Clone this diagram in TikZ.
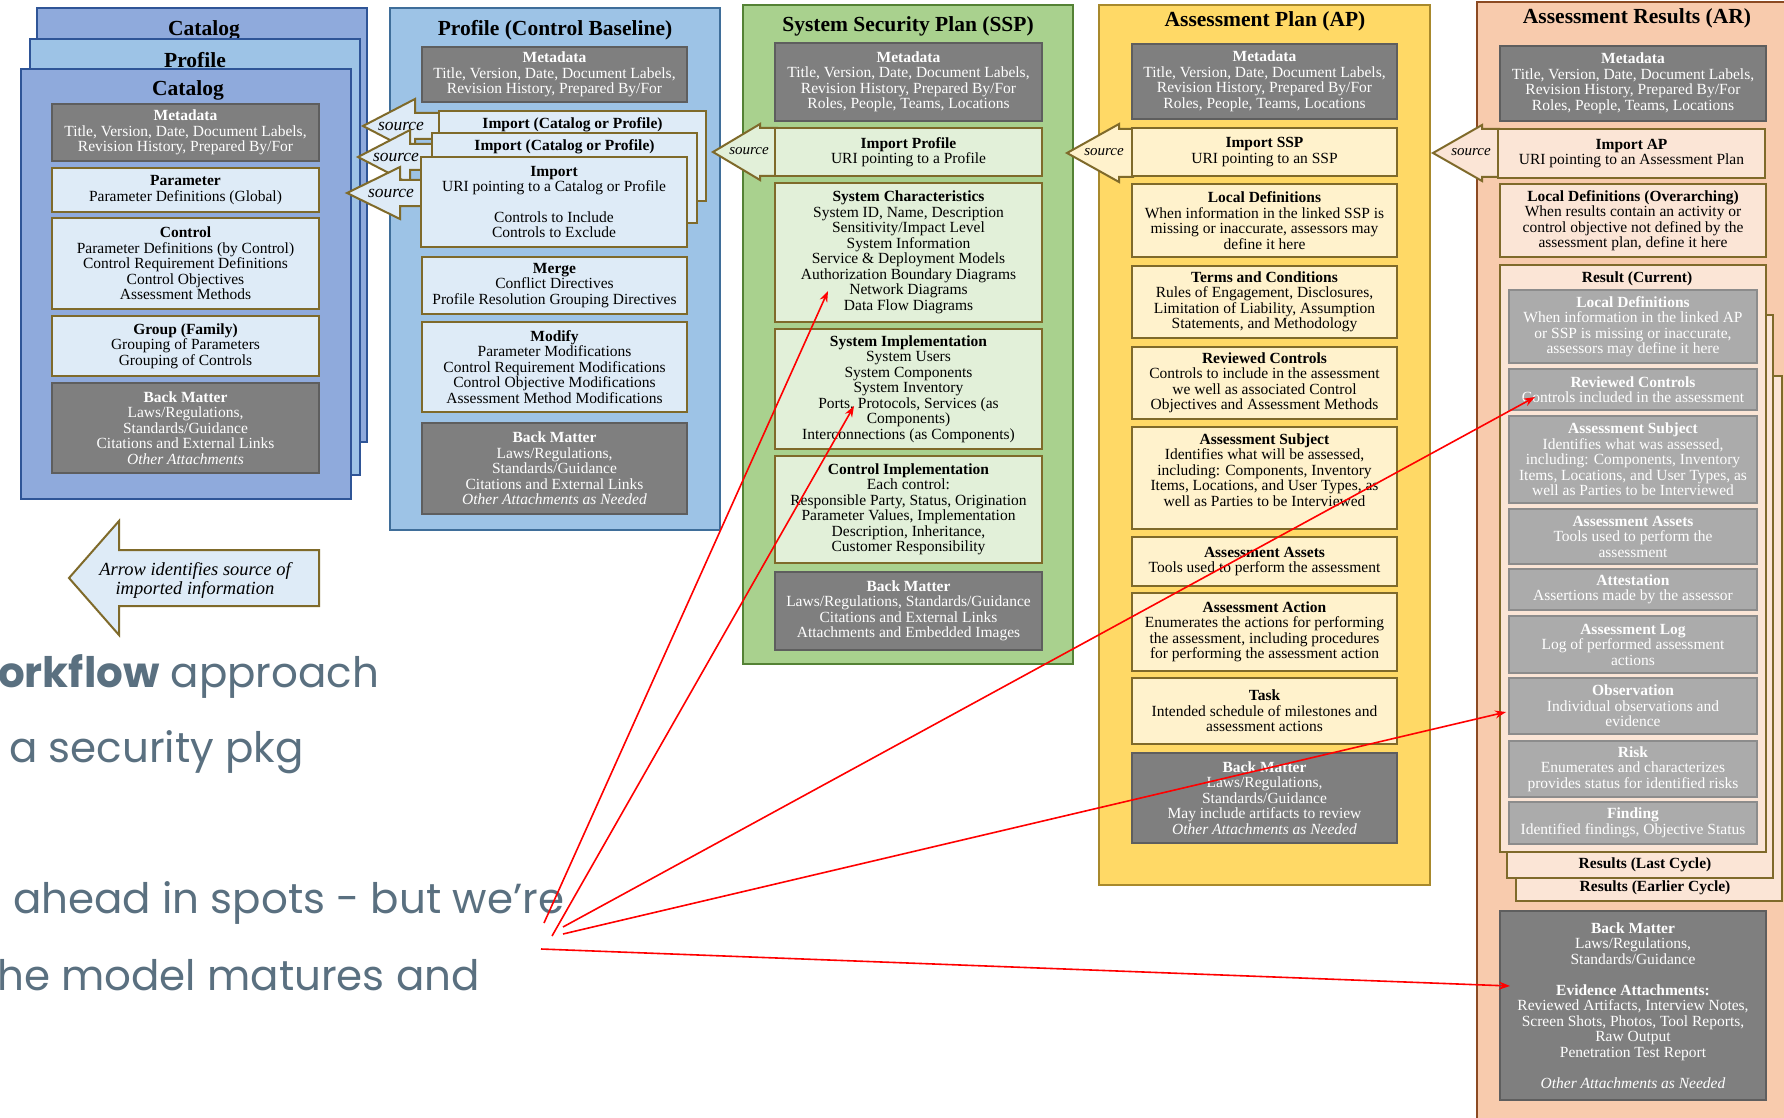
\documentclass[tikz,border=0pt]{standalone}
\usepackage{fontspec}
\setmainfont{Liberation Serif}
\newfontfamily\slidefont{Poppins}
\usetikzlibrary{arrows.meta}

\definecolor{catfill}{HTML}{8FAADC}
\definecolor{catline}{HTML}{2F5597}
\definecolor{proffill}{HTML}{9DC3E6}
\definecolor{profline}{HTML}{3F6E9A}
\definecolor{sspfill}{HTML}{A9D18E}
\definecolor{sspline}{HTML}{548235}
\definecolor{apfill}{HTML}{FFD966}
\definecolor{apline}{HTML}{A8892C}
\definecolor{arfill}{HTML}{F8CBAD}
\definecolor{arline}{HTML}{8C4A22}
\definecolor{paleblue}{HTML}{DEEBF7}
\definecolor{palegreen}{HTML}{E2F0D9}
\definecolor{paleyellow}{HTML}{FFF2CC}
\definecolor{palepeach}{HTML}{FBE5D6}
\definecolor{boxline}{HTML}{7F6A2A}
\definecolor{darkbox}{HTML}{7F7F7F}
\definecolor{darkboxline}{HTML}{5E5E5E}
\definecolor{lightbox}{HTML}{ABABAB}
\definecolor{lightboxline}{HTML}{8C8C8C}
\definecolor{slidetext}{HTML}{5A7080}

\tikzset{
  sz/.style 2 args={minimum width=#1pt, minimum height=#2pt},
  container/.style={draw, line width=2pt, inner sep=0pt},
  coltitle/.style={font=\fontsize{21.5}{23}\selectfont\bfseries},
  part/.style={draw=boxline, line width=2.4pt, inner sep=0pt, align=center,
               font=\fontsize{15.5}{15.5}\selectfont},
  metabox/.style={draw=darkboxline, fill=darkbox, text=white, line width=1.4pt,
                  inner sep=0pt, align=center, font=\fontsize{15.5}{15.5}\selectfont},
  resultbox/.style={draw=lightboxline, fill=lightbox, text=white, line width=1.4pt,
                    inner sep=0pt, align=center, font=\fontsize{15.5}{15.5}\selectfont},
  parttext/.style={align=center, font=\fontsize{15.5}{15.5}\selectfont},
  srcshape/.style={draw=boxline, line width=2pt, line join=miter},
  srclabel/.style={font=\fontsize{15}{15}\selectfont\itshape},
  bigsrclabel/.style={font=\fontsize{17.5}{17.5}\selectfont\itshape},
  pointer/.style={red, line width=1.6pt, -{Stealth[length=11pt,width=8pt]}},
  slide/.style={anchor=base west, inner sep=0pt, text=slidetext,
                font=\fontsize{42}{42}\selectfont\slidefont}
}

% #1 fill, #2 tip x, #3 tip y, #4 head length, #5 head half, #6 shaft half, #7 tail x
\newcommand{\srcarrow}[7]{%
  \filldraw[srcshape, fill=#1] (#2,#3) -- ({#2+#4},{#3-#5}) -- ({#2+#4},{#3-#6})
    -- (#7,{#3-#6}) -- (#7,{#3+#6}) -- ({#2+#4},{#3+#6}) -- ({#2+#4},{#3+#5}) -- cycle;}

\begin{document}
\begin{tikzpicture}[x=1pt, y=-1pt]
\useasboundingbox (0,0) rectangle (1784,1118);
\fill[white] (0,0) rectangle (1784,1118);
\clip (0,0) rectangle (1784,1118);

% slide text behind the diagram
\node[slide] (line1) at (-2,687) {{\bfseries orkflow} approach};
\node[slide] (line2) at (9,762) {a security pkg};
\node[slide] (line3) at (13,913) {ahead in spots - but we’re};
\node[slide] (line4) at (-3,990) {he model matures and};

% catalog / profile stack
\node[container, draw=catline, fill=catfill, sz={330}{434}] (catback) at (202,225) {};
\node[coltitle] (catbacktitle) at (204,30) {Catalog};
\node[container, draw=catline, fill=proffill, sz={330}{435}] (profback) at (195,257) {};
\node[coltitle] (profbacktitle) at (195,60) {Profile};
\node[container, draw=catline, fill=catfill, sz={330}{430}] (catfront) at (186,284) {};
\node[coltitle] (cattitle) at (188,90) {Catalog};

\node[metabox, sz={267}{57}] (catmeta) at (185.5,132.5)
  {\textbf{Metadata}\\Title, Version, Date, Document Labels,\\Revision History, Prepared By/For};
\node[part, fill=paleblue, sz={267}{44}] (catparam) at (185.5,190)
  {\textbf{Parameter}\\Parameter Definitions (Global)};
\node[part, fill=paleblue, sz={267}{91}] (catctrl) at (185.5,263.5)
  {\textbf{Control}\\Parameter Definitions (by Control)\\Control Requirement Definitions\\Control Objectives\\Assessment Methods};
\node[part, fill=paleblue, sz={267}{60}] (catgroup) at (185.5,346)
  {\textbf{Group (Family)}\\Grouping of Parameters\\Grouping of Controls};
\node[metabox, sz={267}{90}] (catbackm) at (185.5,428)
  {\textbf{Back Matter}\\Laws/Regulations,\\Standards/Guidance\\Citations and External Links\\\textit{Other Attachments}};

% profile (control baseline)
\node[container, draw=profline, fill=proffill, sz={330}{522}] (profcol) at (555,269) {};
\node[coltitle] (proftitle) at (555,30) {Profile (Control Baseline)};
\node[metabox, sz={265}{55}] (profmeta) at (554.5,74.5)
  {\textbf{Metadata}\\Title, Version, Date, Document Labels,\\Revision History, Prepared By/For};

\srcarrow{paleblue}{363}{126}{52}{27}{13}{441}
\node[bigsrclabel] (src1) at (401,126) {source};
\node[part, fill=paleblue, sz={267}{90}] (imp1) at (572.5,156) {};
\node[parttext, below=4pt] (imp1title) at (imp1.north) {\textbf{Import (Catalog or Profile)}};
\srcarrow{paleblue}{358}{157}{52}{27}{13}{434}
\node[bigsrclabel] (src2) at (396,157) {source};
\node[part, fill=paleblue, sz={265}{90}] (imp2) at (564.5,178) {};
\node[parttext, below=4pt] (imp2title) at (imp2.north) {\textbf{Import (Catalog or Profile)}};
\srcarrow{paleblue}{347}{193}{53}{26}{13}{423}
\node[bigsrclabel] (src3) at (391,193) {source};
\node[part, fill=paleblue, sz={266}{90}] (imp3) at (554,202)
  {\textbf{Import}\\URI pointing to a Catalog or Profile\\[15.5pt]Controls to Include\\Controls to Exclude};

\node[part, fill=paleblue, sz={265}{57}] (merge) at (554.5,285.5)
  {\textbf{Merge}\\Conflict Directives\\Profile Resolution Grouping Directives};
\node[part, fill=paleblue, sz={265}{90}] (modify) at (554.5,367)
  {\textbf{Modify}\\Parameter Modifications\\Control Requirement Modifications\\Control Objective Modifications\\Assessment Method Modifications};
\node[metabox, sz={265}{91}] (profbackm) at (554.5,468.5)
  {\textbf{Back Matter}\\Laws/Regulations,\\Standards/Guidance\\Citations and External Links\\\textit{Other Attachments as Needed}};

% system security plan
\node[container, draw=sspline, fill=sspfill, sz={330}{659}] (sspcol) at (908,334.5) {};
\node[coltitle] (ssptitle) at (908,26) {System Security Plan (SSP)};
\node[metabox, sz={267}{78}] (sspmeta) at (908.5,82)
  {\textbf{Metadata}\\Title, Version, Date, Document Labels,\\Revision History, Prepared By/For\\Roles, People, Teams, Locations};
\srcarrow{palegreen}{713}{152}{47}{28}{24}{777}
\node[srclabel] (src4) at (749,151) {source};
\node[part, fill=palegreen, sz={267}{48}] (sspimport) at (908.5,152)
  {\textbf{Import Profile}\\URI pointing to a Profile};
\node[part, fill=palegreen, sz={267}{139}] (syschar) at (908.5,252.5)
  {\textbf{System Characteristics}\\System ID, Name, Description\\Sensitivity/Impact Level\\System Information\\Service \& Deployment Models\\Authorization Boundary Diagrams\\Network Diagrams\\Data Flow Diagrams};
\node[part, fill=palegreen, sz={267}{120}] (sysimpl) at (908.5,389)
  {\textbf{System Implementation}\\System Users\\System Components\\System Inventory\\Ports, Protocols, Services (as\\Components)\\Interconnections (as Components)};
\node[part, fill=palegreen, sz={267}{107}] (ctrlimpl) at (908.5,509.5)
  {\textbf{Control Implementation}\\Each control:\\Responsible Party, Status, Origination\\Parameter Values, Implementation\\Description, Inheritance,\\Customer Responsibility};
\node[metabox, sz={267}{78}] (sspbackm) at (908.5,611)
  {\textbf{Back Matter}\\Laws/Regulations, Standards/Guidance\\Citations and External Links\\Attachments and Embedded Images};

% assessment plan
\node[container, draw=apline, fill=apfill, sz={331}{880}] (apcol) at (1264.5,445) {};
\node[coltitle] (aptitle) at (1265,21) {Assessment Plan (AP)};
\node[metabox, sz={265}{75}] (apmeta) at (1264.5,81.5)
  {\textbf{Metadata}\\Title, Version, Date, Document Labels,\\Revision History, Prepared By/For\\Roles, People, Teams, Locations};
\srcarrow{paleyellow}{1067}{153}{52}{29}{24}{1133}
\node[srclabel] (src5) at (1104,152) {source};
\node[part, fill=paleyellow, sz={265}{48}] (apimport) at (1264.5,152)
  {\textbf{Import SSP}\\URI pointing to an SSP};
\node[part, fill=paleyellow, sz={265}{73}] (aplocal) at (1264.5,220.5)
  {\textbf{Local Definitions}\\When information in the linked SSP is\\missing or inaccurate, assessors may\\define it here};
\node[part, fill=paleyellow, sz={265}{72}] (apterms) at (1264.5,302)
  {\textbf{Terms and Conditions}\\Rules of Engagement, Disclosures,\\Limitation of Liability, Assumption\\Statements, and Methodology};
\node[part, fill=paleyellow, sz={265}{72}] (aprevctrl) at (1264.5,383)
  {\textbf{Reviewed Controls}\\Controls to include in the assessment\\we well as associated Control\\Objectives and Assessment Methods};
\node[part, fill=paleyellow, sz={265}{102}] (apsubject) at (1264.5,478) {};
\node[parttext, below=4pt] (apsubjecttext) at (apsubject.north)
  {\textbf{Assessment Subject}\\Identifies what will be assessed,\\including: Components, Inventory\\Items, Locations, and User Types, as\\well as Parties to be Interviewed};
\node[part, fill=paleyellow, sz={265}{49}] (apassets) at (1264.5,561.5)
  {\textbf{Assessment Assets}\\Tools used to perform the assessment};
\node[part, fill=paleyellow, sz={265}{78}] (apaction) at (1264.5,632)
  {\textbf{Assessment Action}\\Enumerates the actions for performing\\the assessment, including procedures\\for performing the assessment action};
\node[part, fill=paleyellow, sz={265}{66}] (aptask) at (1264.5,711)
  {\textbf{Task}\\Intended schedule of milestones and\\assessment actions};
\node[metabox, sz={265}{90}] (apbackm) at (1264.5,798)
  {\textbf{Back Matter}\\Laws/Regulations,\\Standards/Guidance\\May include artifacts to review\\\textit{Other Attachments as Needed}};

% assessment results
\node[container, draw=arline, fill=arfill, sz={323}{1128}] (arcol) at (1638.5,566) {};
\node[coltitle] (artitle) at (1637,18) {Assessment Results (AR)};
\node[metabox, sz={266}{75}] (armeta) at (1633,83.5)
  {\textbf{Metadata}\\Title, Version, Date, Document Labels,\\Revision History, Prepared By/For\\Roles, People, Teams, Locations};
\srcarrow{palepeach}{1433}{153}{49}{28}{24}{1499}
\node[srclabel] (src6) at (1471,152) {source};
\node[part, fill=palepeach, sz={267}{49}] (arimport) at (1631.5,153.5)
  {\textbf{Import AP}\\URI pointing to an Assessment Plan};
\node[part, fill=palepeach, sz={266}{73}] (arlocal) at (1633,220.5)
  {\textbf{Local Definitions (Overarching)}\\When results contain an activity or\\control objective not defined by the\\assessment plan, define it here};

\node[part, fill=palepeach, sz={266}{525}] (earlier) at (1649,638.5) {};
\node[parttext] (earliertitle) at (1655,888) {\textbf{Results (Earlier Cycle)}};
\node[part, fill=palepeach, sz={266}{563}] (last) at (1640,596.5) {};
\node[parttext] (lasttitle) at (1645,865) {\textbf{Results (Last Cycle)}};
\node[part, fill=palepeach, sz={266}{587}] (current) at (1633,558.5) {};
\node[parttext] (currenttitle) at (1637,279) {\textbf{Result (Current)}};

\node[resultbox, sz={248}{73}] (arld) at (1633,326.5)
  {\textbf{Local Definitions}\\When information in the linked AP\\or SSP is missing or inaccurate,\\assessors may define it here};
\node[resultbox, sz={248}{41}] (arrc) at (1633,389.5)
  {\textbf{Reviewed Controls}\\Controls included in the assessment};
\node[resultbox, sz={248}{87}] (arsubj) at (1633,459.5)
  {\textbf{Assessment Subject}\\Identifies what was assessed,\\including: Components, Inventory\\Items, Locations, and User Types, as\\well as Parties to be Interviewed};
\node[resultbox, sz={248}{55}] (arassets) at (1633,536.5)
  {\textbf{Assessment Assets}\\Tools used to perform the\\assessment};
\node[resultbox, sz={248}{41}] (arattest) at (1633,589.5)
  {\textbf{Attestation}\\Assertions made by the assessor};
\node[resultbox, sz={248}{57}] (arlog) at (1633,644.5)
  {\textbf{Assessment Log}\\Log of performed assessment\\actions};
\node[resultbox, sz={248}{56}] (arobs) at (1633,706)
  {\textbf{Observation}\\Individual observations and\\evidence};
\node[resultbox, sz={248}{56}] (arrisk) at (1633,769)
  {\textbf{Risk}\\Enumerates and characterizes\\provides status for identified risks};
\node[resultbox, sz={248}{42}] (arfinding) at (1633,823)
  {\textbf{Finding}\\Identified findings, Objective Status};

\node[metabox, sz={266}{189}] (arbackm) at (1633,1005.5)
  {\textbf{Back Matter}\\Laws/Regulations,\\Standards/Guidance\\[15.5pt]\textbf{Evidence Attachments:}\\Reviewed Artifacts, Interview Notes,\\Screen Shots, Photos, Tool Reports,\\Raw Output\\Penetration Test Report\\[15.5pt]\textit{Other Attachments as Needed}};

% legend
\srcarrow{paleblue}{69}{578}{50}{57}{28}{319}
\node[align=center, font=\fontsize{18.5}{19}\selectfont\itshape] (legend) at (195,580)
  {Arrow identifies source of\\imported information};

% red pointers
\coordinate (from1) at (544,923);
\coordinate (from2) at (552,936);
\coordinate (from3) at (563,927);
\coordinate (from4) at (563,934);
\coordinate (from5) at (541,949);
\coordinate (to1) at (828,291);
\coordinate (to2) at (854,406);
\coordinate (to3) at (1535,397);
\coordinate (to4) at (1506,712);
\coordinate (to5) at (1510,986);
\draw[pointer] (from1) -- (to1);
\draw[pointer] (from2) -- (to2);
\draw[pointer] (from3) -- (to3);
\draw[pointer] (from4) -- (to4);
\draw[pointer] (from5) -- (to5);
\end{tikzpicture}
\end{document}
